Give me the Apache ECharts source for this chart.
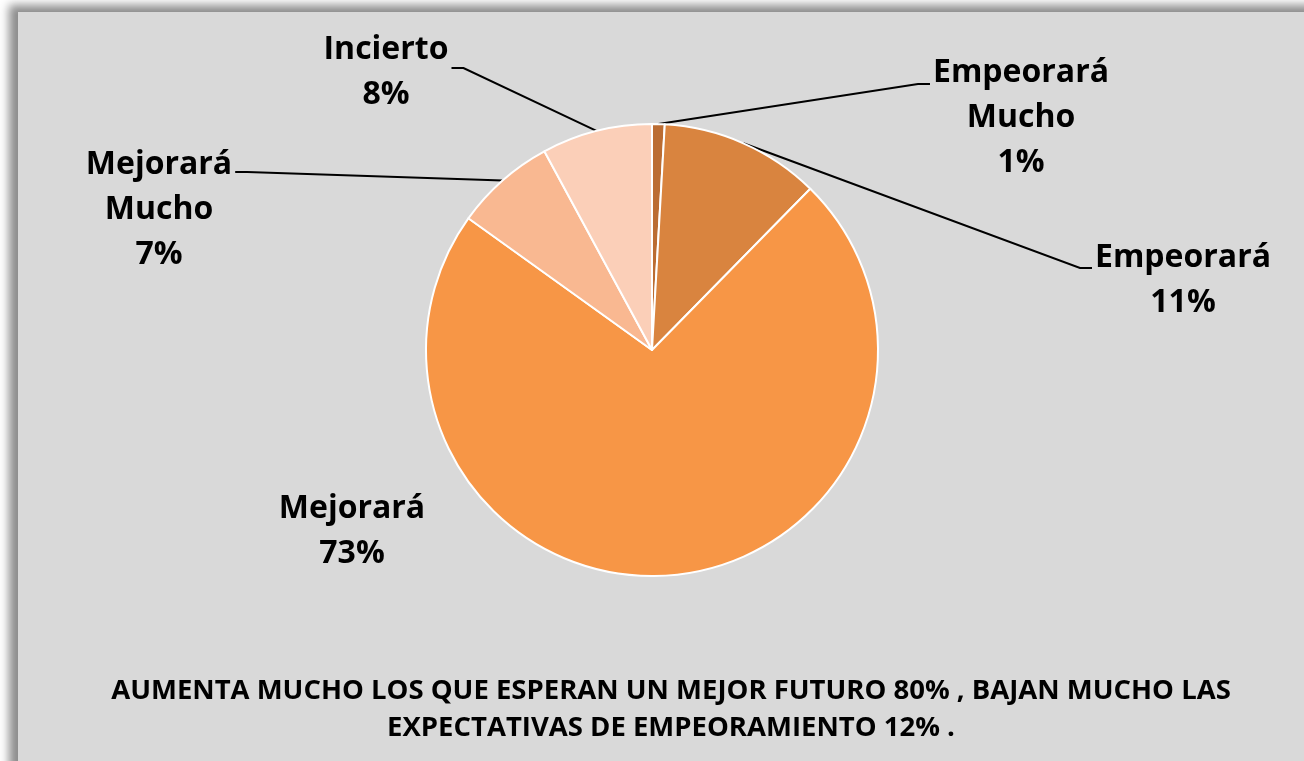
<!DOCTYPE html>
<html>
<head>
<meta charset="utf-8">
<script src="https://cdn.jsdelivr.net/npm/echarts@6/dist/echarts.min.js"></script>
<style>
  html, body { margin: 0; padding: 0; background: #fff; overflow: hidden; }
  .frame {
    position: absolute; left: 18px; top: 12px; width: 1400px; height: 900px;
    background: #d9d9d9;
    box-shadow: -9px -7px 9px rgba(0, 0, 0, 0.45);
  }
  #chart { position: absolute; left: 0; top: 0; width: 1304px; height: 761px; }
</style>
</head>
<body>
<div class="frame"></div>
<div id="chart"></div>
<script>
// datos del gráfico
const categories = ['Empeorará Mucho', 'Empeorará', 'Mejorará', 'Mejorará Mucho', 'Incierto']
const labelNames = ['Empeorará\nMucho', 'Empeorará', 'Mejorará', 'Mejorará\nMucho', 'Incierto']
const values = [0.9, 11.45, 72.55, 7.2, 7.9]
const colors = ['#bb6c32', '#d9843f', '#f79646', '#f9b891', '#fbcfb8']
const footnote = 'AUMENTA MUCHO LOS QUE ESPERAN UN MEJOR FUTURO 80% , BAJAN MUCHO LAS\nEXPECTATIVAS DE EMPEORAMIENTO 12% .'

// posición de cada etiqueta: centro x, centro y, altura de la línea guía, lado
const labelPos = [
  { x: 1021, y: 118, lineY: 84, side: -1 },
  { x: 1183, y: 280, lineY: 268, side: -1 },
  { x: 352, y: 531, lineY: null, side: 0 },
  { x: 159, y: 210, lineY: 172, side: 1 },
  { x: 386, y: 72, lineY: 68, side: 1 }
]

var myChart = echarts.init(document.getElementById('chart'))

var option = {
  backgroundColor: 'transparent',
  animation: false,
  graphic: [
    {
      type: 'text',
      x: 671,
      y: 710,
      style: {
        text: footnote,
        align: 'center',
        verticalAlign: 'middle',
        fontFamily: 'Open Sans',
        fontWeight: 'bold',
        fontSize: 27.5,
        lineHeight: 37,
        fill: '#000'
      }
    }
  ],
  series: [
    {
      type: 'pie',
      center: [652, 350],
      radius: 226,
      startAngle: 90,
      clockwise: true,
      avoidLabelOverlap: false,
      itemStyle: {
        borderColor: '#fff',
        borderWidth: 2
      },
      label: {
        show: true,
        position: 'outside',
        fontFamily: 'Open Sans',
        fontWeight: 'bold',
        fontSize: 32,
        lineHeight: 45,
        color: '#000',
        formatter: function (p) {
          return labelNames[p.dataIndex] + '\n' + Math.round(p.percent) + '%'
        }
      },
      labelLine: {
        show: true,
        length: 20,
        length2: 20,
        lineStyle: { color: '#000', width: 2 }
      },
      labelLayout: function (params) {
        var pos = labelPos[params.dataIndex]
        var res = { x: pos.x, y: pos.y, align: 'center', verticalAlign: 'middle' }
        if (pos.side !== 0 && params.labelLinePoints) {
          var endX = pos.x + pos.side * (params.labelRect.width / 2 + 3)
          var bendX = endX + pos.side * 12
          res.labelLinePoints = [
            params.labelLinePoints[0],
            [bendX, pos.lineY],
            [endX, pos.lineY]
          ]
        }
        return res
      },
      data: categories.map(function (name, i) {
        var item = { name: name, value: values[i], itemStyle: { color: colors[i] } }
        if (i === 2) item.labelLine = { show: false }
        return item
      })
    }
  ]
}

myChart.setOption(option)
</script>
</body>
</html>
